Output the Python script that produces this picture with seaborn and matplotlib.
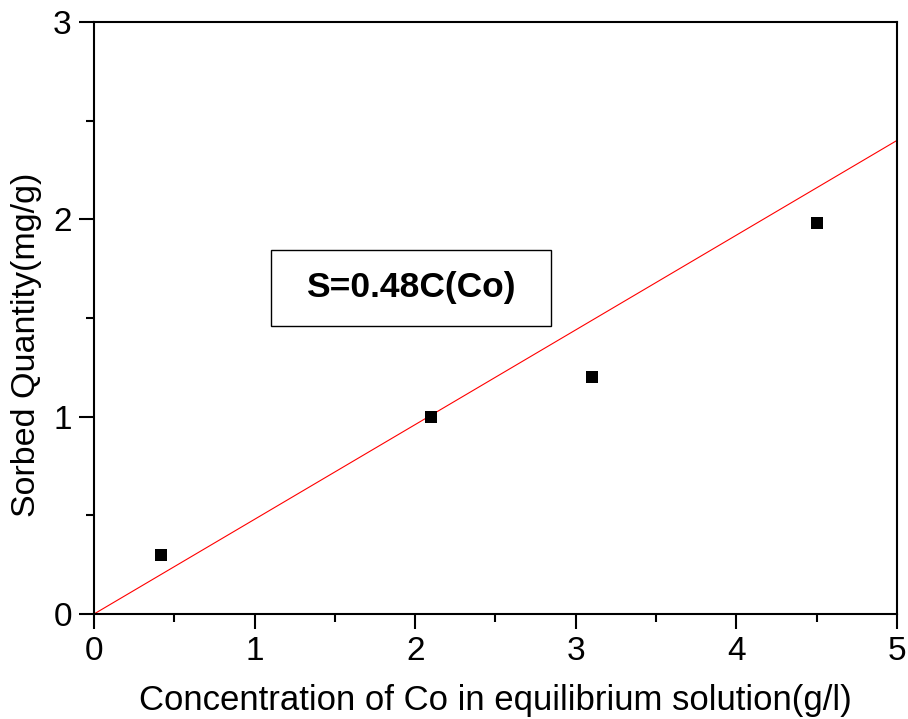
import numpy as np
import pandas as pd
import seaborn as sns
import matplotlib.pyplot as plt
from matplotlib.patches import Rectangle

# Data
conc = [0.42, 2.1, 3.1, 4.5]          # g/l
sorbed = [0.30, 1.00, 1.20, 1.98]     # mg/g
slope = 0.48
fit_x = [0, 5]

points = pd.DataFrame({'C': conc, 'S': sorbed})
fit = pd.DataFrame({'C': fit_x, 'S': [slope * x for x in fit_x]})

sns.set_style('white')
plt.rcParams['font.family'] = ['Liberation Sans', 'DejaVu Sans']
plt.rcParams['text.color'] = 'black'
plt.rcParams['axes.labelcolor'] = 'black'

fig = plt.figure(figsize=(9.08, 7.19), dpi=100)
ax = fig.add_axes([0.1035, 0.146, 0.8844, 0.8234])

sns.lineplot(x='C', y='S', data=fit, color='red', linewidth=0.8, ax=ax)
sns.scatterplot(x='C', y='S', data=points, marker='s', color='black',
                s=85, edgecolor='black', linewidth=0, ax=ax, zorder=3)

ax.set_xlim(0, 5)
ax.set_ylim(0, 3)
ax.set_xticks([0, 1, 2, 3, 4, 5])
ax.set_yticks([0, 1, 2, 3])
ax.set_xticks(np.arange(0.5, 5, 1), minor=True)
ax.set_yticks(np.arange(0.5, 3, 1), minor=True)
ax.tick_params(which='major', direction='out', length=11, width=1.5,
               labelsize=24, colors='black', bottom=True, left=True, pad=5)
ax.tick_params(which='minor', direction='out', length=6, width=1.5,
               colors='black', bottom=True, left=True)
for sp in ax.spines.values():
    sp.set_visible(True)
    sp.set_color('black')
    sp.set_linewidth(1.5)

ax.set_xlabel('Concentration of Co in equilibrium solution(g/l)', fontsize=25, labelpad=12)
ax.set_ylabel('Sorbed Quantity(mg/g)', fontsize=24.5)
ax.yaxis.set_label_coords(-0.065, 0.454)

ax.add_patch(Rectangle((0.2204, 0.4865), 0.3487, 0.1284, transform=ax.transAxes,
                       fill=False, edgecolor='black', linewidth=1.0, zorder=4))
ax.text(0.3948, 0.552, 'S=0.48C(Co)', transform=ax.transAxes, ha='center', va='center',
        fontsize=25.5, fontweight='bold', zorder=5)

fig.savefig('out.png', dpi=100)
